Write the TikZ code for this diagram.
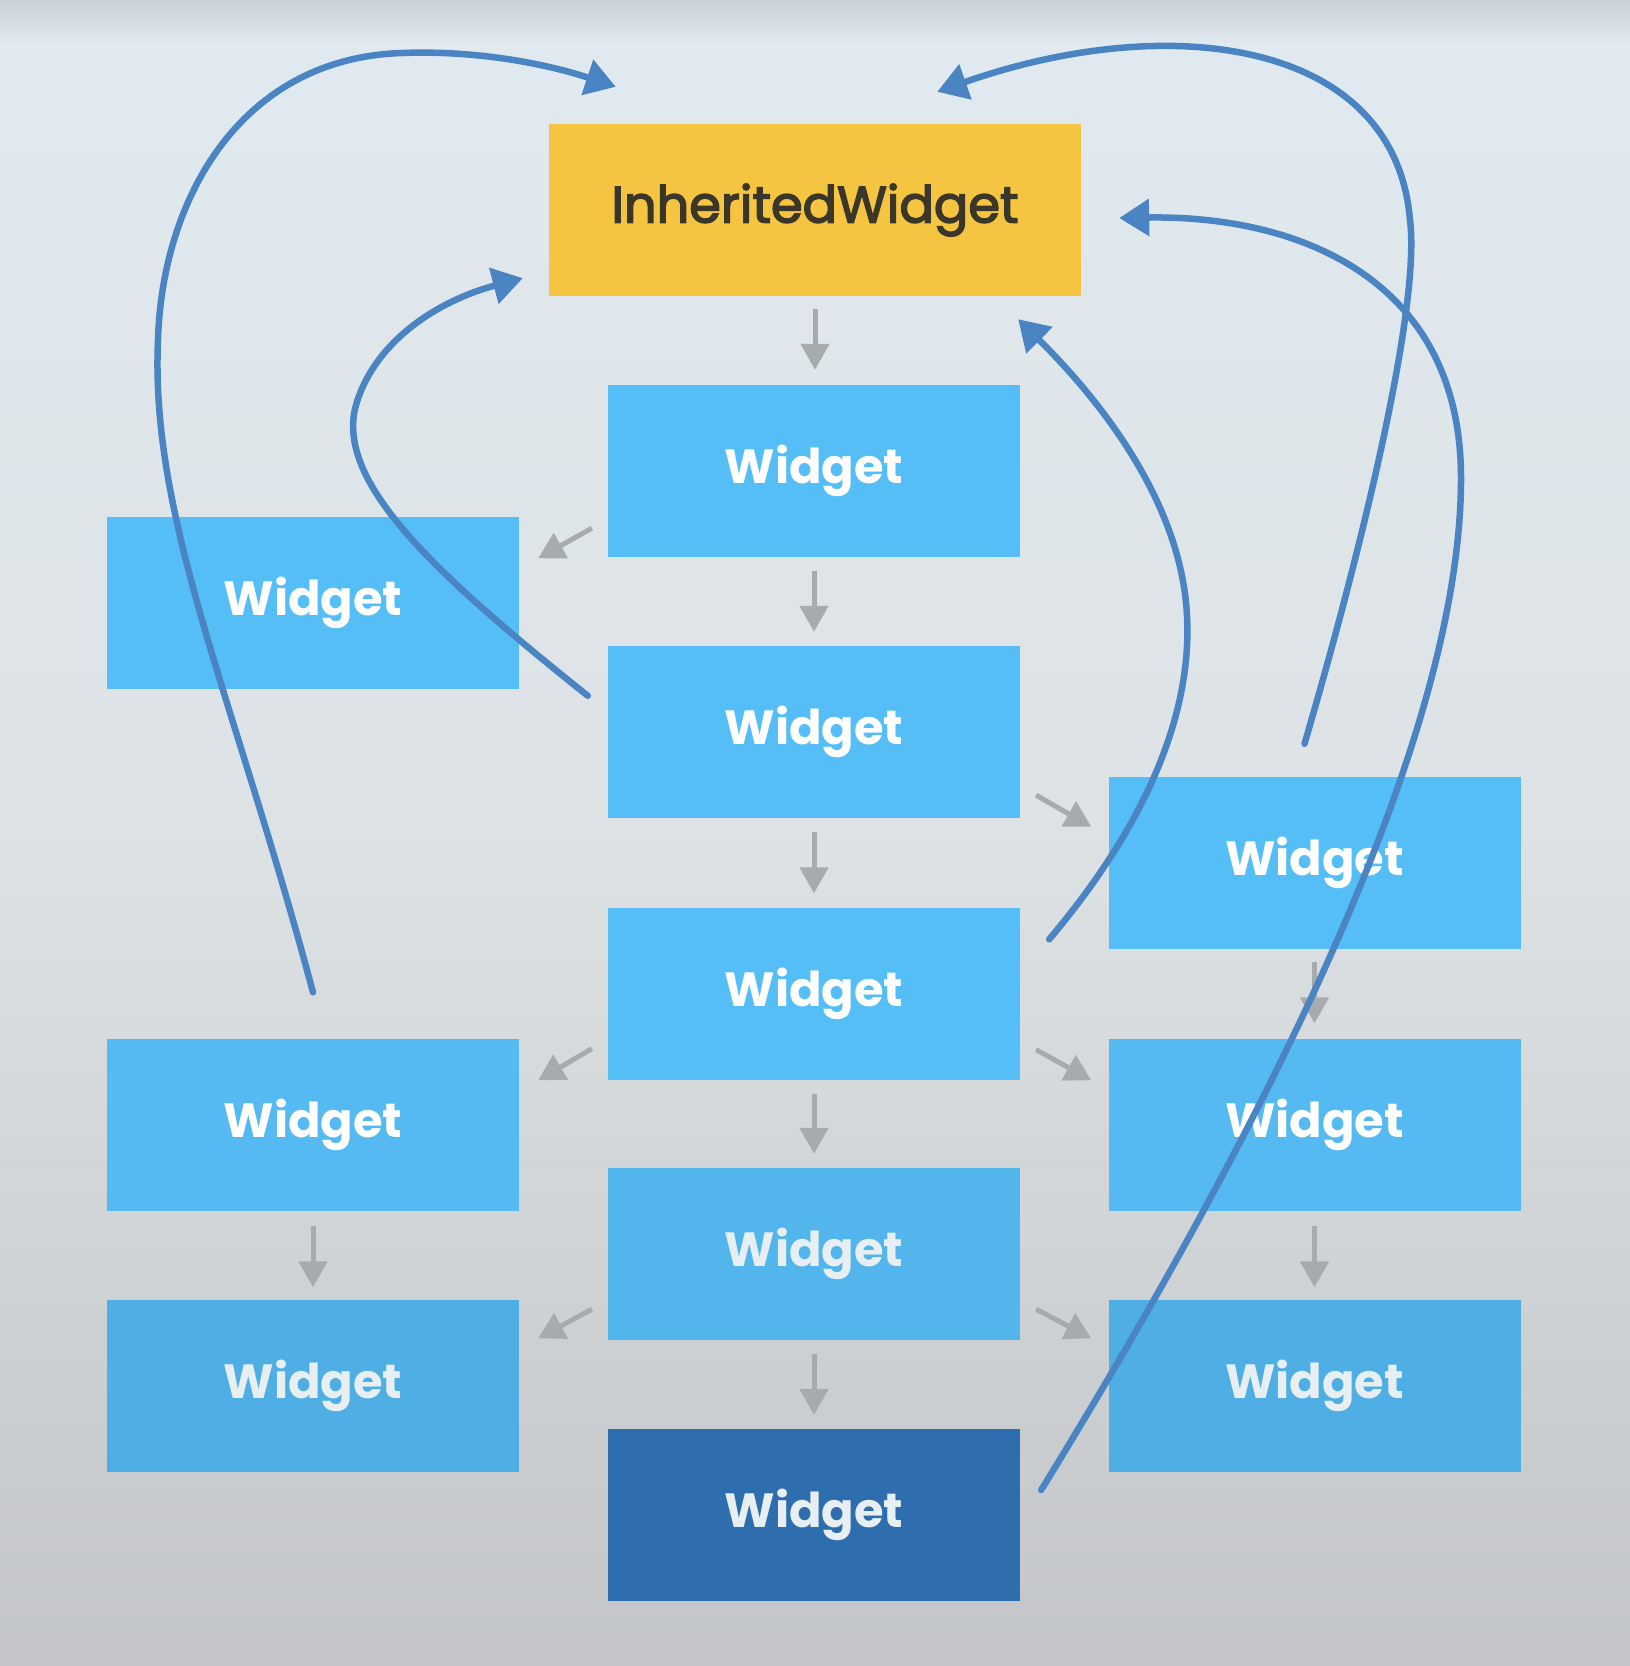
\documentclass[tikz,border=0pt]{standalone}
\usepackage{fontspec}
\setmainfont{Poppins}
\newfontfamily\ihfont{Poppins}[FakeBold=3]
\usetikzlibrary{arrows.meta}
\definecolor{bgband}{HTML}{C9D1D6}
\definecolor{bgtop}{HTML}{E0EAF0}
\definecolor{bgmid}{HTML}{DDE2E5}
\definecolor{bgbot}{HTML}{C3C5C8}
\definecolor{wblue}{HTML}{56BEF6}
\definecolor{wblueb}{HTML}{54BAF1}
\definecolor{wbluec}{HTML}{52B5EB}
\definecolor{wblued}{HTML}{4FAFE5}
\definecolor{wdark}{HTML}{2F6EAE}
\definecolor{wtextb}{HTML}{E8EFF3}
\definecolor{iyellow}{HTML}{F5C542}
\definecolor{itext}{HTML}{3A3628}
\definecolor{garr}{HTML}{A8ABAE}
\definecolor{bline}{HTML}{4A84C2}
\begin{document}
\begin{tikzpicture}[x=1pt,y=-1pt,
  wbox/.style={rectangle, fill=wblue, minimum width=412pt, minimum height=172pt, inner sep=0pt, text=white, font=\fontsize{48}{56}\selectfont\bfseries},
  ibox/.style={rectangle, fill=iyellow, minimum width=532pt, minimum height=172pt, inner sep=0pt, text=itext, font=\ihfont\fontsize{51}{59}\selectfont},
  garrow/.style={draw=garr, line width=5pt, -{Triangle[length=26pt,width=28pt]}},
  barrow/.style={draw=bline, line width=6.5pt, line cap=round, -{Triangle[length=30pt,width=36pt]}}
]
\shade[top color=bgtop, bottom color=bgmid] (0,0) rectangle (1630,830);
\shade[top color=bgmid, bottom color=bgbot] (0,830) rectangle (1630,1666);
\shade[top color=bgband, bottom color=bgtop] (0,0) rectangle (1630,45);
% nodes
\node[ibox] (ih) at (815,210) {InheritedWidget};
\node[wbox] (w1) at (814,471) {Widget};
\node[wbox] (w2) at (814,732) {Widget};
\node[wbox] (w3) at (814,993.5) {Widget};
\node[wbox, fill=wbluec, text=wtextb] (w4) at (814,1254) {Widget};
\node[wbox, fill=wdark, text=wtextb] (w5) at (814,1515) {Widget};
\node[wbox] (l1) at (313,602.5) {Widget};
\node[wbox, fill=wblueb] (l2) at (313,1124.5) {Widget};
\node[wbox, fill=wblued, text=wtextb] (l3) at (313,1385.5) {Widget};
\node[wbox] (r1) at (1314.5,863) {Widget};
\node[wbox, fill=wblueb] (r2) at (1314.5,1124.5) {Widget};
\node[wbox, fill=wblued, text=wtextb] (r3) at (1314.5,1385.5) {Widget};
% gray tree arrows
\draw[garrow, shorten <=13pt, shorten >=15pt] (ih.south) -- (ih.south |- w1.north);
\draw[garrow, shorten <=14pt, shorten >=14pt] (w1) -- (w2);
\draw[garrow, shorten <=14pt, shorten >=14pt] (w2) -- (w3);
\draw[garrow, shorten <=14pt, shorten >=14pt] (w3) -- (w4);
\draw[garrow, shorten <=14pt, shorten >=14pt] (w4) -- (w5);
\draw[garrow, shorten <=15pt, shorten >=12pt] (l2) -- (l3);
\draw[garrow, shorten <=13pt, shorten >=15pt] (r1) -- (r2);
\draw[garrow, shorten <=15pt, shorten >=12pt] (r2) -- (r3);
\draw[garrow] ([shift={(-16,-29)}]w1.south west) -- ([shift={(19,42)}]l1.north east);
\draw[garrow] ([shift={(-16,-31)}]w3.south west) -- ([shift={(19,42)}]l2.north east);
\draw[garrow] ([shift={(-16,-31)}]w4.south west) -- ([shift={(19,39)}]l3.north east);
\draw[garrow] ([shift={(16,-23)}]w2.south east) -- ([shift={(-17,50)}]r1.north west);
\draw[garrow] ([shift={(16,-30)}]w3.south east) -- ([shift={(-17,42)}]r2.north west);
\draw[garrow] ([shift={(16,-31)}]w4.south east) -- ([shift={(-17,39)}]r3.north west);
% blue lookup curves
\coordinate (s1) at ([shift={(0,-46)}]l2.north);
\coordinate (e1) at ([shift={(67,-37)}]ih.north west);
\draw[barrow] (s1) .. controls (235,700) and (150,520) .. (158,340) .. controls (162,200) and (240,58) .. (402,53) .. controls (480,50) and (550,65) .. (e1);
\coordinate (s2) at ([shift={(-20,50)}]w2.north west);
\coordinate (e2) at ([shift={(-26,-18)}]ih.south west);
\draw[barrow] (s2) .. controls (430,570) and (335,480) .. (356,405) .. controls (375,340) and (440,300) .. (e2);
\coordinate (s3) at ([shift={(29,32)}]w3.north east);
\coordinate (e3) at ([shift={(-63,23)}]ih.south east);
\draw[barrow] (s3) .. controls (1150,820) and (1192,710) .. (1187,616) .. controls (1182,510) and (1110,410) .. (e3);
\coordinate (s4) at ([shift={(-10,-33)}]r1.north);
\coordinate (e4) at ([shift={(-144,-32)}]ih.north east);
\draw[barrow] (s4) .. controls (1370,520) and (1420,300) .. (1410,220) .. controls (1395,40) and (1170,10) .. (e4);
\coordinate (s5) at ([shift={(21,-25)}]w5.east);
\coordinate (e5) at ([shift={(38,8)}]ih.east);
\draw[barrow] (s5) .. controls (1250,1150) and (1460,750) .. (1461,480) .. controls (1462,280) and (1300,215) .. (e5);
\end{tikzpicture}
\end{document}
